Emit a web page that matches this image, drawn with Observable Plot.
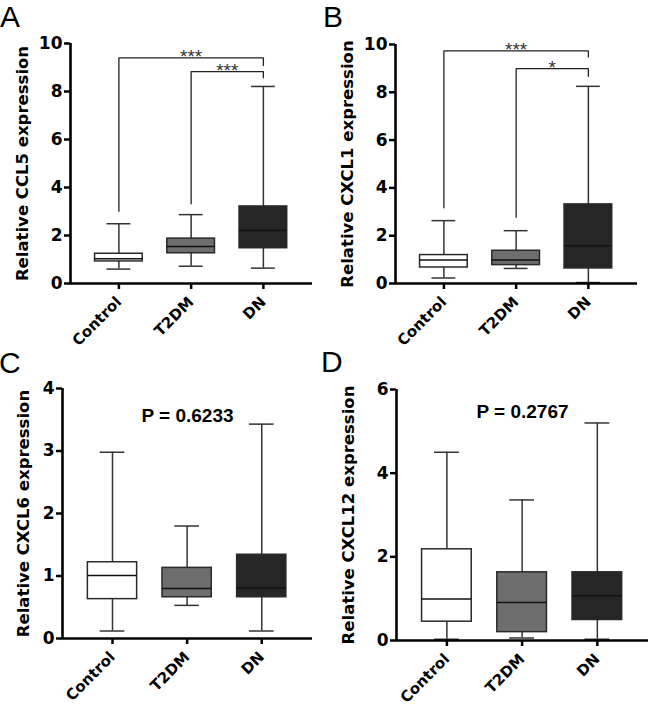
<!DOCTYPE html>
<html><head><meta charset="utf-8">
<script src="https://cdn.jsdelivr.net/npm/d3@7"></script>
<script src="https://cdn.jsdelivr.net/npm/@observablehq/plot@0.6"></script>
<style>
body{margin:0;background:#fff;}
#fig{position:relative;width:649px;height:710px;overflow:hidden;background:#fff;}
.panel{position:absolute;}
.letter{position:absolute;font-family:"Liberation Sans",Arial,sans-serif;font-size:30px;line-height:34px;height:34px;color:#000;}
</style></head><body><div id="fig"></div>
<script>
// Categories
const groups = ["Control", "T2DM", "DN"];
// Five-number summaries per group: [min, Q1, median, Q3, max]
const ccl5 = [[0.60, 0.92, 1.03, 1.24, 2.49], [0.72, 1.26, 1.54, 1.87, 2.87], [0.64, 1.47, 2.21, 3.21, 8.21]];
const cxcl1 = [[0.23, 0.67, 0.98, 1.19, 2.63], [0.63, 0.77, 0.98, 1.37, 2.21], [0.04, 0.63, 1.58, 3.31, 8.25]];
const cxcl6 = [[0.12, 0.63, 1.01, 1.22, 2.98], [0.53, 0.66, 0.80, 1.13, 1.80], [0.12, 0.66, 0.81, 1.34, 3.43]];
const cxcl12 = [[0.03, 0.45, 0.99, 2.18, 4.50], [0.06, 0.20, 0.91, 1.63, 3.36], [0.03, 0.49, 1.07, 1.63, 5.20]];
// Significance brackets: [fromGroup, toGroup, barY, leftLegEnd, rightLegEnd, label]
const bracketsA = [[0, 2, 9.40, 3.01, 9.08, "***"], [1, 2, 8.83, 3.32, 8.57, "***"]];
const bracketsB = [[0, 2, 9.73, 3.17, 9.48, "***"], [1, 2, 8.99, 2.77, 8.67, "*"]];
// Tick values
const ticksAB = [0, 2, 4, 6, 8, 10];
const ticksC = [0, 1, 2, 3, 4];
const ticksD = [0, 2, 4, 6];
// P-values
const pC = "P = 0.6233";
const pD = "P = 0.2767";

const fills = ["#ffffff", "#6e6e6e", "#262626"];
const xDomain = [-0.67, 2.68];
const boxHalf = 0.33, capHalf = 0.165;

function panel(o) {
  const rows = o.stats.map((s, i) => ({i, group: groups[i], min: s[0], q1: s[1], med: s[2], q3: s[3], max: s[4]}));
  const br = (o.brackets || []).map((b, k) => ({id: k, from: b[0], to: b[1], y: b[2], l: b[3], r: b[4], label: b[5]}));
  const pts = br.flatMap(b => [
    {id: b.id, x: b.from, y: b.l}, {id: b.id, x: b.from, y: b.y},
    {id: b.id, x: b.to, y: b.y}, {id: b.id, x: b.to, y: b.r}
  ]);
  const marks = [
    Plot.ruleX(rows, {x: "i", y1: "min", y2: "max", stroke: "#333", strokeWidth: 1.5}),
    Plot.ruleY(rows, {x1: d => d.i - capHalf, x2: d => d.i + capHalf, y: "min", stroke: "#333", strokeWidth: 1.5}),
    Plot.ruleY(rows, {x1: d => d.i - capHalf, x2: d => d.i + capHalf, y: "max", stroke: "#333", strokeWidth: 1.5}),
    Plot.rectY(rows, {x1: d => d.i - boxHalf, x2: d => d.i + boxHalf, y1: "q1", y2: "q3", fill: "group", stroke: "#2a2a2a", strokeWidth: 1.5}),
    Plot.ruleY(rows, {x1: d => d.i - boxHalf, x2: d => d.i + boxHalf, y: "med", stroke: "#111", strokeWidth: 1.5}),
    Plot.line(pts, {x: "x", y: "y", z: "id", stroke: "#222", strokeWidth: 1.3}),
    Plot.text(br, {x: d => (d.from + d.to) / 2, y: "y", text: "label", dy: -1, fontSize: 19, fontFamily: "Liberation Sans", fontWeight: "normal", fill: "#333"}),
    Plot.ruleY([0], {stroke: "#000", strokeWidth: 2.6}),
    Plot.ruleX([xDomain[0]], {stroke: "#000", strokeWidth: 2.6}),
    Plot.axisY({ticks: o.ticks, tickSize: 6, tickPadding: 2, strokeWidth: 2.5, fontSize: 17, fontWeight: "bold", fontFamily: "DejaVu Sans", label: null, tickFormat: d => String(d)}),
    Plot.axisX({ticks: [0, 1, 2], tickFormat: i => groups[i], tickRotate: -45, tickSize: 6, tickPadding: 10, strokeWidth: 2.5, fontSize: 15, fontWeight: "bold", fontFamily: "DejaVu Sans", label: null}),
    Plot.text([o.label], {text: d => d, frameAnchor: "left", rotate: -90, dx: o.labelDx, fontSize: 16.5, fontWeight: "bold", fontFamily: "DejaVu Sans", textAnchor: "middle"})
  ];
  if (o.p) marks.push(Plot.text([o.p], {text: d => d, frameAnchor: "top", lineAnchor: "middle", dy: o.pDy, fontSize: 19, fontFamily: "Liberation Sans", fontWeight: "bold"}));
  return Plot.plot({
    width: 324, height: 355,
    marginLeft: o.ml, marginRight: o.mr, marginTop: o.mt, marginBottom: o.mb,
    x: {type: "linear", domain: xDomain},
    y: {domain: [0, o.yMax]},
    color: {type: "ordinal", domain: groups, range: fills},
    style: {fontFamily: "DejaVu Sans", fontWeight: "bold", fontSize: "15px", color: "#000", background: "transparent", overflow: "visible"},
    marks
  });
}

const fig = document.getElementById("fig");
function place(node, left, top) {
  const d = document.createElement("div");
  d.className = "panel"; d.style.left = left + "px"; d.style.top = top + "px";
  d.appendChild(node); fig.appendChild(d);
}
function letter(t, left, top) {
  const d = document.createElement("div");
  d.className = "letter"; d.style.left = left + "px"; d.style.top = top + "px";
  d.textContent = t; fig.appendChild(d);
}

place(panel({stats: ccl5, label: "Relative CCL5 expression", yMax: 10, ticks: ticksAB, ml: 70, mr: 12, mt: 43, mb: 72, labelDx: -48, brackets: bracketsA}), 0, 0);
place(panel({stats: cxcl1, label: "Relative CXCL1 expression", yMax: 10, ticks: ticksAB, ml: 70, mr: 12, mt: 44, mb: 72, labelDx: -48, brackets: bracketsB}), 325, 0);
place(panel({stats: cxcl6, label: "Relative CXCL6 expression", yMax: 4, ticks: ticksC, ml: 62, mr: 12, mt: 33, mb: 72, labelDx: -39, p: pC, pDy: 27}), 0, 355);
place(panel({stats: cxcl12, label: "Relative CXCL12 expression", yMax: 6, ticks: ticksD, ml: 71, mr: 1, mt: 34, mb: 70, labelDx: -47.5, p: pD, pDy: 22}), 325, 355);

letter("A", 0, 0);
letter("B", 323, 0);
letter("C", -1, 346);
letter("D", 321, 345);
</script>
</body></html>
